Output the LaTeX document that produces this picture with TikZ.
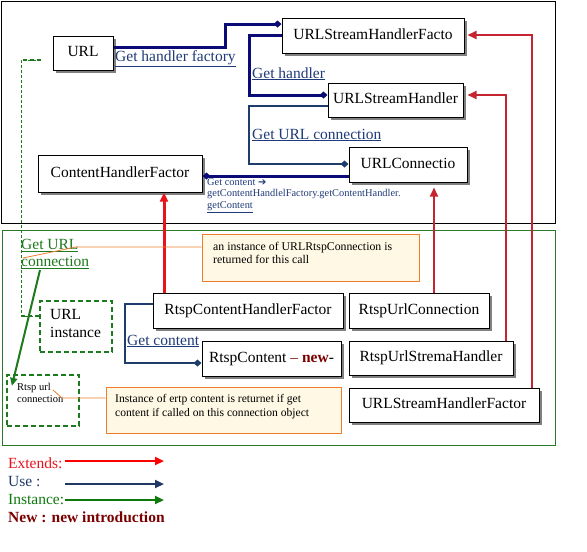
\documentclass[tikz,border=0pt]{standalone}
\usepackage{fontspec}
\setmainfont{Liberation Serif}
\newfontfamily\dejavu{DejaVu Sans}
\usetikzlibrary{arrows.meta,shadows}
\definecolor{navyc}{HTML}{0B0B78}
\definecolor{usec}{HTML}{1F3D6B}
\definecolor{labc}{HTML}{1F3A78}
\definecolor{grn}{HTML}{1E7A1E}
\definecolor{grnf}{HTML}{2A7A2A}
\definecolor{redb}{HTML}{E8141B}
\definecolor{redd}{HTML}{C42530}
\definecolor{orl}{HTML}{EE7D2E}
\definecolor{notef}{HTML}{FFF8E4}
\definecolor{darkr}{HTML}{7A0000}
\definecolor{legu}{HTML}{1F3864}
\definecolor{legg}{HTML}{0E7A0E}
\tikzset{
 big/.style={font=\fontsize{15.5}{18}\selectfont},
 cls/.style={draw=black, line width=1pt, fill=white, inner sep=0pt, big,
   text height=11pt, text depth=4pt,
   drop shadow={shadow xshift=2.5pt, shadow yshift=-2.5pt, fill=black!50, opacity=1}},
 notebox/.style={draw=orl, line width=1pt, fill=notef, inner sep=0pt},
 notetext/.style={inner sep=0pt, align=left, anchor=north west},
 inst/.style={draw=grn, line width=2.2pt, dash pattern=on 5pt off 3pt, inner sep=0pt},
 lbl/.style={inner sep=0pt, anchor=base west, text=labc, big},
 usethick/.style={draw=navyc, line width=3pt, -{Diamond[length=8pt,width=7pt]}},
 usemid/.style={draw=usec, line width=2.4pt, -{Diamond[length=8pt,width=7pt]}},
 ext/.style={draw=redd, line width=2pt, -{Triangle[length=9pt,width=8pt]}},
 callout/.style={draw=orl, line width=0.8pt},
 legarrow/.style={line width=2.2pt, -{Triangle[length=9pt,width=8pt]}},
}
\begin{document}
\begin{tikzpicture}[x=1pt,y=-1pt]
\useasboundingbox (0,0) rectangle (587,552);
% frames
\draw[black, line width=1pt] (1,1) rectangle (555,223);
\draw[grnf, line width=1pt] (2,230) rectangle (555,445);

% class boxes
\node[cls, minimum width=60pt, minimum height=34pt] (url) at (83,53) {URL};
\node[cls, minimum width=182pt, minimum height=35pt] (ushf) at (373,35.5) {URLStreamHandlerFacto};
\node[cls, minimum width=135pt, minimum height=34pt] (ush) at (395.5,100) {URLStreamHandler};
\node[cls, minimum width=118pt, minimum height=35pt] (uconn) at (408,164.5) {URLConnectio};
\node[cls, minimum width=164pt, minimum height=37pt] (chf) at (120,173.5) {ContentHandlerFactor};
\node[cls, minimum width=190pt, minimum height=35pt] (rchf) at (248,310.5) {RtspContentHandlerFactor};
\node[cls, minimum width=139pt, minimum height=35pt] (rc) at (271.5,358.5) {RtspContent \textcolor{darkr}{– \textbf{new}}-};
\node[cls, minimum width=140pt, minimum height=35pt] (ruc) at (419,310.5) {RtspUrlConnection};
\node[cls, minimum width=164pt, minimum height=34pt] (rush) at (431,358) {RtspUrlStremaHandler};
\node[cls, minimum width=190pt, minimum height=34pt] (ushf2) at (444,405) {URLStreamHandlerFactor};

% notes
\node[notebox, minimum width=217pt, minimum height=47pt] (n1) at (310.5,257.5) {};
\node[notetext, font=\fontsize{11.8}{13}\selectfont] (n1t) at (213,242) {an instance of URLRtspConnection is\\returned for this call};
\node[notebox, minimum width=235pt, minimum height=46pt] (n2) at (223.5,410) {};
\node[notetext, font=\fontsize{11.6}{14}\selectfont] (n2t) at (115,394) {Instance of ertp content is returnet if get\\content if called on this connection object};

% instance boxes
\node[inst, minimum width=72pt, minimum height=51pt] (urlinst) at (76,326.5) {};
\node[notetext, align=left, font=\fontsize{15.5}{18}\selectfont] (urlinstt) at (50,309) {URL\\instance};
\node[inst, minimum width=72pt, minimum height=51pt] (rurl) at (43,400.5) {};
\node[notetext, font=\fontsize{10.5}{12}\selectfont] (rurlt) at (17,383) {Rtsp url\\connection};

% use labels
\node[lbl] (l1) at (115,61) {\underline{Get handler factory}};
\node[lbl] (l2) at (252,78) {\underline{Get handler}};
\node[lbl] (l3) at (252,139) {\underline{Get URL connection}};
\node[lbl] (l4) at (127,345) {\underline{Get content}};
\node[notetext, text=labc, font=\fontsize{10.4}{11.6}\selectfont] (l5) at (207,178) {Get content {\dejavu\bfseries\fontsize{10}{10}\selectfont ➔}\\getContentHandlelFactory.getContentHandler.\\\underline{getContent}};
\node[notetext, text=grn, big] (l6) at (21,239) {\underline{Get URL}\\[-0.5pt]\underline{connection}};

% use connectors
\draw[usethick] (url.east |- 0,47) -- (225,47) -- (225,24) -- (ushf.west |- 0,24);
\draw[usethick] (ushf.west |- 0,35) -- (249,35) -- (249,95) -- (ush.west |- 0,95);
\draw[usemid] (ush.west |- 0,106) -- (249,106) -- (249,164) -- (uconn.west |- 0,164);
\draw[usethick] (uconn.west |- 0,176) -- (chf.east |- 0,176);
\draw[usemid] (rchf.west |- 0,304) -- (125,304) -- (125,363) -- (rc.west |- 0,363);

% extends connectors
\draw[ext, draw=redb, line width=3pt] (rchf.north -| 164,0) -- (chf.south -| 164,0);
\draw[ext, shorten >=5pt] (ruc.north -| 434,0) -- (uconn.south -| 434,0);
\draw[ext, shorten >=4pt] (rush.north -| 506,0) -- (506,95) -- (ush.east |- 0,95);
\draw[ext, shorten >=3pt] (ushf2.north -| 532,0) -- (532,35) -- (ushf.east |- 0,35);

% instance connectors
\coordinate (gd0) at (41,60);
\draw[grn, line width=0.8pt, dash pattern=on 3pt off 2pt] (gd0) -- (21,60) -- (21,316) -- (urlinst.west |- 0,316);
\draw[grn, line width=2pt, dash pattern=on 4pt off 3pt] (gd0) -- (21,60);
\draw[grn, line width=2pt, dash pattern=on 4pt off 3pt] (21,316) -- (urlinst.west |- 0,316);
\coordinate (ga0) at (40,270);
\draw[grn, line width=2pt, -{Triangle[length=8pt,width=7pt]}] (ga0) -- ([shift={(6,12)}]rurl.north west);

% callouts
\draw[callout] (23,258) -- (76,247) -- (n1.west |- 0,247);
\draw[callout] (53,390) -- (62,398) -- (n2.west |- 0,398);

% legend
\node[anchor=base west, inner sep=0pt, text=redb, big] (lext) at (8,468) {Extends:};
\node[anchor=base west, inner sep=0pt, text=legu, big] (luse) at (8,486) {Use :};
\node[anchor=base west, inner sep=0pt, text=legg, big] (linst) at (8,504) {Instance:};
\node[anchor=base west, inner sep=0pt, text=darkr, big] (lnew) at (8,522) {\textbf{New : new introduction}};
\coordinate (le1) at (65,461); \coordinate (le2) at (164,461);
\coordinate (lu1) at (65,484); \coordinate (lu2) at (164,484);
\coordinate (li1) at (65,500); \coordinate (li2) at (164,500);
\draw[legarrow, draw=red] (le1) -- (le2);
\draw[legarrow, draw=legu] (lu1) -- (lu2);
\draw[legarrow, draw=legg] (li1) -- (li2);
\end{tikzpicture}
\end{document}
